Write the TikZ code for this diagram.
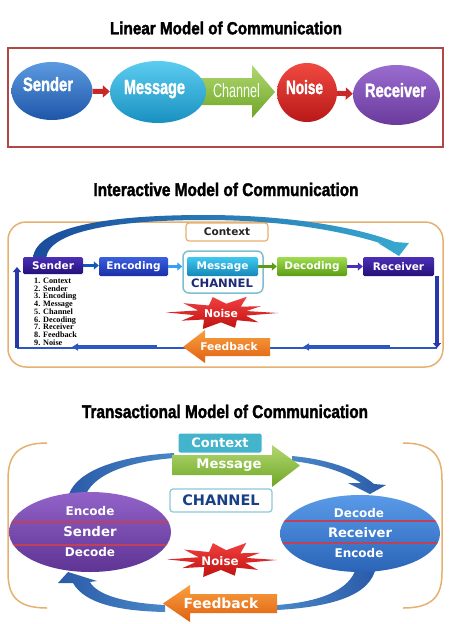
\documentclass[tikz,border=0pt]{standalone}
\usepackage{fontspec}
\usepackage{graphicx}
\usetikzlibrary{arrows.meta,shapes.geometric}
\setmainfont{DejaVu Sans}
\newfontfamily\ttlfont{Liberation Sans}[BoldFeatures={FakeBold=2}]
\newfontfamily\serfont{Liberation Serif}
\newcommand\fitto[3]{\resizebox{#1}{#2}{#3}}
\definecolor{LFrame}{HTML}{B04848}
\definecolor{LSendT}{HTML}{5B9AE0}\definecolor{LSendB}{HTML}{1F56A8}
\definecolor{LMsgT}{HTML}{5CCDF0}\definecolor{LMsgB}{HTML}{1890C0}
\definecolor{GrnT}{HTML}{B2D870}\definecolor{GrnB}{HTML}{6EA526}
\definecolor{LNoiT}{HTML}{F04A40}\definecolor{LNoiB}{HTML}{B81818}
\definecolor{LRecT}{HTML}{9A6CD0}\definecolor{LRecB}{HTML}{6A3A9C}
\definecolor{LArr}{HTML}{C82828}
\definecolor{IFrame}{HTML}{E6B070}
\definecolor{INavT}{HTML}{4A30B8}\definecolor{INavB}{HTML}{241078}
\definecolor{IEncT}{HTML}{3A60E0}\definecolor{IEncB}{HTML}{1A2EA8}
\definecolor{IMsgT}{HTML}{40C8F0}\definecolor{IMsgB}{HTML}{1488B8}
\definecolor{IDecT}{HTML}{A0DC50}\definecolor{IDecB}{HTML}{5C9C14}
\definecolor{IChFr}{HTML}{7CC0D0}
\definecolor{ChTxt}{HTML}{1C2A78}
\definecolor{ArcL}{HTML}{1A4C9C}\definecolor{ArcR}{HTML}{38AAD0}
\definecolor{ILine}{HTML}{2838A8}\definecolor{ISeg}{HTML}{2A58C0}
\definecolor{FbT}{HTML}{F8A040}\definecolor{FbB}{HTML}{E06010}
\definecolor{StarT}{HTML}{F04040}\definecolor{StarB}{HTML}{C01010}
\definecolor{TCtx}{HTML}{44B4CC}
\definecolor{TSendT}{HTML}{9262C8}\definecolor{TSendB}{HTML}{5E3494}
\definecolor{TRecT}{HTML}{5A9AE8}\definecolor{TRecB}{HTML}{2A64B8}
\definecolor{TArcL}{HTML}{2A5AA8}\definecolor{TArcR}{HTML}{4A88C8}
\definecolor{TLine}{HTML}{C0405A}
\definecolor{TChFr}{HTML}{8CC8D8}
\begin{document}
\begin{tikzpicture}[x=1pt,y=-1pt,
  ttl/.style={anchor=base,inner sep=0pt,text=black},
  lell/.style={ellipse,inner sep=0pt,draw=none},
  lbl/.style={anchor=base,inner sep=0pt,text=white},
  larr/.style={draw=LArr,line width=5pt,-{Triangle[length=7pt,width=12pt]}},
  ibox/.style={rectangle,rounded corners=1.5pt,minimum height=19pt,inner sep=0pt,text=white,
     font=\fontsize{10.5}{12}\selectfont\bfseries},
  iarr/.style={line width=2.6pt,-{Triangle[length=5pt,width=8pt]}},
  ivert/.style={draw=ILine,line width=4pt,-{Triangle[length=5pt,width=8pt]}},
  iseg/.style={draw=ISeg,line width=3.5pt,-{Triangle[length=6pt,width=7pt]}},
  listtxt/.style={inner sep=0pt,anchor=base east,font=\serfont\bfseries\fontsize{8.2}{8}\selectfont},
  tlab/.style={inner sep=0pt,text=white,font=\fontsize{12}{14}\selectfont\bfseries},
  tline/.style={draw=TLine,line width=1.2pt},
  brk/.style={draw=IFrame,line width=1.5pt}]
\useasboundingbox (0,0) rectangle (474,624);
\fill[white] (0,0) rectangle (474,624);

% ================= Linear =================
\node[ttl] (t1) at (226,34.3) {\fitto{232pt}{12.7pt}{\ttlfont\bfseries Linear Model of Communication}};
\draw[LFrame,line width=1.5pt] (8,48) rectangle (443,147);
% channel block arrow
\shade[top color=GrnT,bottom color=GrnB] (198,78) -- (252,78) -- (252,65) -- (275,92) -- (252,118) -- (252,105) -- (198,105) -- (205,91.5) -- cycle;
\node[lell,minimum width=81pt,minimum height=58pt,top color=LSendT,bottom color=LSendB] (lsend) at (52,91) {};
\node[lell,minimum width=96pt,minimum height=62pt,top color=LMsgT,bottom color=LMsgB] (lmsg) at (158,92) {};
\node[lell,minimum width=60pt,minimum height=59pt,top color=LNoiT,bottom color=LNoiB] (lnoise) at (307,92.5) {};
\node[lell,minimum width=87pt,minimum height=60pt,top color=LRecT,bottom color=LRecB] (lrec) at (396.5,95) {};
\draw[larr] (lsend) -- (lmsg);
\draw[larr] (lnoise) -- (lrec);
\node[lbl] (lsendt) at (48,91) {\fitto{50pt}{14pt}{\ttlfont\bfseries Sender}};
\node[lbl] (lmsgt) at (154.5,94) {\fitto{61pt}{14pt}{\ttlfont\bfseries Message}};
\node[lbl,text=white!96!green] (lchant) at (236.5,97) {\fitto{47pt}{14pt}{\ttlfont Channel}};
\node[lbl] (lnoiset) at (304.5,94) {\fitto{37pt}{14pt}{\ttlfont\bfseries Noise}};
\node[lbl] (lrect) at (395.5,97) {\fitto{61pt}{14pt}{\ttlfont\bfseries Receiver}};

% ================= Interactive =================
\node[ttl] (t2) at (226,196) {\fitto{265pt}{13.3pt}{\ttlfont\bfseries Interactive Model of Communication}};
\draw[IFrame,line width=1.5pt,rounded corners=18pt] (8,222) rectangle (443,367);
\node[draw=IFrame,line width=1.2pt,fill=white,rounded corners=3pt,minimum width=82pt,minimum height=18pt,inner sep=0pt,
  text=black!85,font=\fontsize{10.5}{12}\selectfont\bfseries] (ictx) at (227,232) {Context};
% arc
\shade[left color=ArcL,right color=ArcR] (33,258) .. controls (36,224) and (120,215) .. (205,215)
   .. controls (290,215) and (360,228) .. (395,242) -- (409,243) -- (399,256) -- (378,243) -- (386,245)
   .. controls (350,233) and (290,220) .. (205,220) .. controls (130,220) and (50,228) .. (46,258) -- cycle;
% boxes
\node[ibox,minimum width=60pt,minimum height=17pt,top color=INavT,bottom color=INavB] (isend) at (53,265.5) {Sender};
\node[ibox,minimum width=69pt,top color=IEncT,bottom color=IEncB] (ienc) at (133.5,266.5) {Encoding};
\node[draw=IChFr,line width=1.5pt,fill=white,rounded corners=6pt,minimum width=80pt,minimum height=42pt,inner sep=0pt] (ichan) at (223,272) {};
\node[ibox,minimum width=71pt,top color=IMsgT,bottom color=IMsgB] (imsg) at (222.5,266.5) {Message};
\node[inner sep=0pt,text=ChTxt,font=\fontsize{11.6}{13}\selectfont\bfseries] (ichant) at (222,283) {CHANNEL};
\node[ibox,minimum width=70pt,top color=IDecT,bottom color=IDecB] (idec) at (312,266.5) {Decoding};
\node[ibox,minimum width=71pt,top color=INavT,bottom color=INavB] (irec) at (398.5,266.5) {Receiver};
\draw[iarr,draw=IEncB!80!cyan] (isend.east) -- (isend.east -| ienc.west);
\draw[iarr,draw=IMsgT!80!blue] (ienc.east) -- (ienc.east -| ichan.west);
\draw[iarr,draw=IDecB] (imsg.east) -- (idec.west);
\draw[iarr,draw=INavT] (idec.east) -- (irec.west);
% feedback loop lines
\coordinate (irtop) at (437,276);
\coordinate (ibr) at (437,348);
\coordinate (ibl) at (17,348);
\coordinate (iltop) at (17,267);
\coordinate (is1a) at (390,347);
\coordinate (is1b) at (303,347);
\coordinate (is2a) at (157,347);
\coordinate (is2b) at (72,347);
\draw[ISeg,line width=1.2pt] (ibr) -- (ibl);
\draw[ivert] (irtop) -- (ibr);
\draw[ivert] (ibl) -- (iltop);
\draw[iseg] (is1a) -- (is1b);
\draw[iseg] (is2a) -- (is2b);
% list
\foreach \t [count=\i] in {Context,Sender,Encoding,Message,Channel,Decoding,Receiver,Feedback,Noise} {
  \node[listtxt] (ln\i) at (40.5,{283.3+(\i-1)*7.75}) {\i.};
  \node[listtxt,anchor=base west] (lt\i) at (43,{283.3+(\i-1)*7.75}) {\t};
}
% noise star
\begin{scope}[shift={(222,313)},x=56pt,y=17pt]
\shade[top color=StarT,bottom color=StarB] (0:1) -- (15:0.45) -- (30:0.8) -- (48:0.5) -- (65:1.05) -- (82:0.55) -- (100:0.95) -- (118:0.5) -- (140:0.9) -- (160:0.45) -- (178:1) -- (195:0.5) -- (212:0.85) -- (230:0.5) -- (250:1.0) -- (268:0.55) -- (285:0.9) -- (302:0.5) -- (320:0.85) -- (340:0.45) -- cycle;
\end{scope}
\node[inner sep=0pt,text=white,font=\fontsize{10.8}{12}\selectfont\bfseries] (inoise) at (221,313) {Noise};
% feedback arrow
\shade[top color=FbT,bottom color=FbB] (270,338) -- (205,338) -- (205,330) -- (183,347) -- (205,363) -- (205,356) -- (270,356) -- cycle;
\node[inner sep=0pt,text=white,font=\fontsize{10.7}{12}\selectfont\bfseries] (ifb) at (229,347) {Feedback};

% ================= Transactional =================
\node[ttl] (t3) at (225,418) {\fitto{286pt}{13.3pt}{\ttlfont\bfseries Transactional Model of Communication}};
\draw[brk] (47,443) .. controls (15,443) and (8,458) .. (8,480) -- (8,572) .. controls (8,594) and (15,608) .. (47,608);
\draw[brk] (403,443) .. controls (435,443) and (442,458) .. (442,480) -- (442,572) .. controls (442,594) and (435,608) .. (403,608);
% arcs
\shade[left color=TArcL,right color=TArcR] (69,494) .. controls (78,470) and (120,456) .. (174,453) -- (174,458) .. controls (125,462) and (95,475) .. (86,494) -- cycle;
\shade[left color=TArcR,right color=TArcL] (292,456) .. controls (325,459) and (355,468) .. (374,484) -- (386,485) -- (370,494) -- (348,483) -- (361,483) .. controls (345,472) and (320,464) .. (292,461) -- cycle;
\shade[left color=TArcR,right color=TArcL] (376,566) .. controls (372,596) and (330,607) .. (277,610) -- (277,605) .. controls (320,602) and (350,590) .. (356,568) -- cycle;
\shade[left color=TArcL,right color=TArcR] (165,605) .. controls (125,603) and (97,595) .. (90,582) -- (97,581) -- (68,572) -- (58,583) -- (73,583) .. controls (85,604) and (120,611) .. (165,612) -- cycle;
% context + message
\node[fill=TCtx,draw=white,line width=1pt,rounded corners=2pt,minimum width=84pt,minimum height=20pt,inner sep=0pt,
  text=white,font=\fontsize{13}{15}\selectfont\bfseries] (tctx) at (220,443) {Context};
\shade[top color=GrnT,bottom color=GrnB] (172,455) -- (272,455) -- (272,445) -- (300,465.5) -- (272,487) -- (272,475) -- (172,475) -- cycle;
\node[inner sep=0pt,text=white,font=\fontsize{13.2}{15}\selectfont\bfseries] (tmsg) at (229,465) {Message};
\node[draw=TChFr,line width=1.2pt,fill=white,rounded corners=3pt,minimum width=102pt,minimum height=23pt,inner sep=0pt,
  text=ChTxt!90!cyan,font=\fontsize{14.5}{16}\selectfont\bfseries] (tchan) at (221,500.5) {CHANNEL};
% ellipses
\node[lell,minimum width=162pt,minimum height=80pt,top color=TSendT,bottom color=TSendB] (tsend) at (90,532) {};
\node[lell,minimum width=160pt,minimum height=77pt,top color=TRecT,bottom color=TRecB] (trec) at (360,533.5) {};
\begin{scope}
\clip (90,532) ellipse [x radius=81pt,y radius=40pt];
\draw[tline] (0,522) -- (180,522);
\draw[tline] (0,545) -- (180,545);
\end{scope}
\begin{scope}
\clip (360,533.5) ellipse [x radius=80pt,y radius=38.5pt];
\draw[tline] (270,521) -- (450,521);
\draw[tline] (270,543) -- (450,543);
\end{scope}
\node[tlab] (tse1) at (90,511.5) {Encode};
\node[tlab,font=\fontsize{13.3}{15}\selectfont\bfseries] (tse2) at (90,532) {Sender};
\node[tlab] (tse3) at (90,552) {Decode};
\node[tlab] (tre1) at (359,513) {Decode};
\node[tlab,font=\fontsize{13.1}{15}\selectfont\bfseries] (tre2) at (360,533) {Receiver};
\node[tlab] (tre3) at (359,553) {Encode};
% noise star
\begin{scope}[shift={(222,560)},x=55pt,y=18pt]
\shade[top color=StarT,bottom color=StarB] (0:1) -- (15:0.45) -- (30:0.8) -- (48:0.5) -- (65:1.05) -- (82:0.55) -- (100:0.95) -- (118:0.5) -- (140:0.9) -- (160:0.45) -- (178:1) -- (195:0.5) -- (212:0.85) -- (230:0.5) -- (250:1.0) -- (268:0.55) -- (285:0.9) -- (302:0.5) -- (320:0.85) -- (340:0.45) -- cycle;
\end{scope}
\node[inner sep=0pt,text=white,font=\fontsize{11.8}{13}\selectfont\bfseries] (tnoise) at (220,561) {Noise};
% feedback
\shade[top color=FbT,bottom color=FbB] (277,594) -- (190,594) -- (190,585) -- (163,603.5) -- (190,622) -- (190,613) -- (277,613) -- cycle;
\node[inner sep=0pt,text=white,font=\fontsize{13.9}{15}\selectfont\bfseries] (tfb) at (221,603.5) {Feedback};
\end{tikzpicture}
\end{document}
